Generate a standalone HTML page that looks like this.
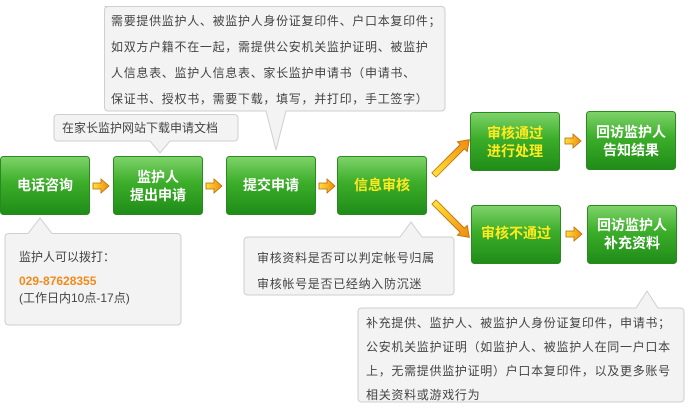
<!DOCTYPE html>
<html><head><meta charset="utf-8"><style>
body{margin:0;background:#fff;}
svg text{font-family:"Liberation Sans","Noto Sans CJK SC",sans-serif;}
.w{letter-spacing:0.7px;}
</style></head><body>
<svg width="689" height="405" viewBox="0 0 689 405" xmlns="http://www.w3.org/2000/svg">
<defs>
<linearGradient id="g" x1="0" y1="0" x2="0" y2="1">
<stop offset="0" stop-color="#7fd36a"/><stop offset="0.45" stop-color="#3cae2a"/><stop offset="1" stop-color="#1f8c18"/>
</linearGradient>
<linearGradient id="o" x1="0" y1="0" x2="1" y2="0">
<stop offset="0" stop-color="#ffe23a"/><stop offset="1" stop-color="#f08a10"/>
</linearGradient>
<g id="ar"><path d="M0,-3 H8 V-7 L16,0 L8,7 V3 H0 Z" fill="url(#o)" stroke="#b86a00" stroke-width="0.8"/></g>
</defs>
<g fill="#f3f3f3" stroke="#cfcfcf" stroke-width="1">
<path d="M104.5,6.5 H441 Q445,6.5 445,10.5 V107 Q445,111 441,111 H286 L276,150 L266,111 H108.5 Q104.5,111 104.5,107 V10.5 Q104.5,6.5 108.5,6.5 Z"/>
<path d="M58,114.5 H234 Q238,114.5 238,118.5 V137 Q238,141 234,141 H170 L160,153 L150,141 H58 Q54,141 54,137 V118.5 Q54,114.5 58,114.5 Z"/>
<path d="M9,233.5 H28 L40,218 L52,233.5 H177 Q181,233.5 181,237.5 V321 Q181,325 177,325 H9 Q5,325 5,321 V237.5 Q5,233.5 9,233.5 Z"/>
<path d="M248,237 H400 L411,222 L422,237 H450 Q454,237 454,241 V291 Q454,295 450,295 H248 Q244,295 244,291 V241 Q244,237 248,237 Z"/>
<path d="M362,308 H636 L647,291 L658,308 H680 Q684,308 684,312 V398 Q684,402 680,402 H362 Q358,402 358,398 V312 Q358,308 362,308 Z"/>
</g>
<g font-size="12" fill="#444">
<text class="w" x="111" y="25">需要提供监护人、被监护人身份证复印件、户口本复印件；</text>
<text class="w" x="111" y="51">如双方户籍不在一起，需提供公安机关监护证明、被监护</text>
<text class="w" x="111" y="77">人信息表、监护人信息表、家长监护申请书（申请书、</text>
<text class="w" x="111" y="103">保证书、授权书，需要下载，填写，并打印，手工签字）</text>
<text x="62" y="132">在家长监护网站下载申请文档</text>
<text x="19" y="261">监护人可以拨打：</text>
<text x="19" y="285" fill="#f08a1c" font-weight="bold">029-87628355</text>
<text x="19" y="302">(工作日内10点-17点)</text>
<text class="w" x="257" y="262">审核资料是否可以判定帐号归属</text>
<text class="w" x="257" y="288">审核帐号是否已经纳入防沉迷</text>
<text class="w" x="366" y="327">补充提供、监护人、被监护人身份证复印件，申请书；</text>
<text class="w" x="366" y="351">公安机关监护证明（如监护人、被监护人在同一户口本</text>
<text class="w" x="366" y="375">上，无需提供监护证明）户口本复印件，以及更多账号</text>
<text class="w" x="366" y="399">相关资料或游戏行为</text>
</g>
<g stroke="#2a8a20" stroke-width="1">
<rect x="0.5" y="156.5" width="89" height="58" rx="3" fill="url(#g)"/>
<rect x="113.5" y="156.5" width="89" height="58" rx="3" fill="url(#g)"/>
<rect x="226.5" y="156.5" width="89" height="58" rx="3" fill="url(#g)"/>
<rect x="337.5" y="156.5" width="89" height="58" rx="3" fill="url(#g)"/>
<rect x="470.5" y="112.5" width="89" height="58" rx="3" fill="url(#g)"/>
<rect x="586.5" y="111.5" width="89" height="58" rx="3" fill="url(#g)"/>
<rect x="471.5" y="205.5" width="89" height="58" rx="3" fill="url(#g)"/>
<rect x="587.5" y="205.5" width="89" height="58" rx="3" fill="url(#g)"/>
</g>
<g font-size="14" font-weight="bold" text-anchor="middle" fill="#fff">
<text x="45" y="190">电话咨询</text>
<text x="158" y="182">监护人</text><text x="158" y="200">提出申请</text>
<text x="271" y="190">提交申请</text>
<text x="382" y="190" fill="#ffea20">信息审核</text>
<text x="515" y="138" fill="#ffea20">审核通过</text><text x="515" y="156" fill="#ffea20">进行处理</text>
<text x="631" y="137">回访监护人</text><text x="631" y="155">告知结果</text>
<text x="516" y="238" fill="#ffea20">审核不通过</text>
<text x="632" y="230">回访监护人</text><text x="632" y="248">补充资料</text>
</g>
<use href="#ar" x="93" y="186"/>
<use href="#ar" x="206" y="186"/>
<use href="#ar" x="319" y="186"/>
<use href="#ar" x="565" y="141"/>
<use href="#ar" x="566" y="234"/>
<g transform="translate(434,175) rotate(-45)"><path d="M0,-3 H40 V-7 L50,0 L40,7 V3 H0 Z" fill="url(#o)" stroke="#b86a00" stroke-width="0.8"/></g>
<g transform="translate(434,202) rotate(45)"><path d="M0,-3 H40 V-7 L50,0 L40,7 V3 H0 Z" fill="url(#o)" stroke="#b86a00" stroke-width="0.8"/></g>
</svg>
</body></html>
